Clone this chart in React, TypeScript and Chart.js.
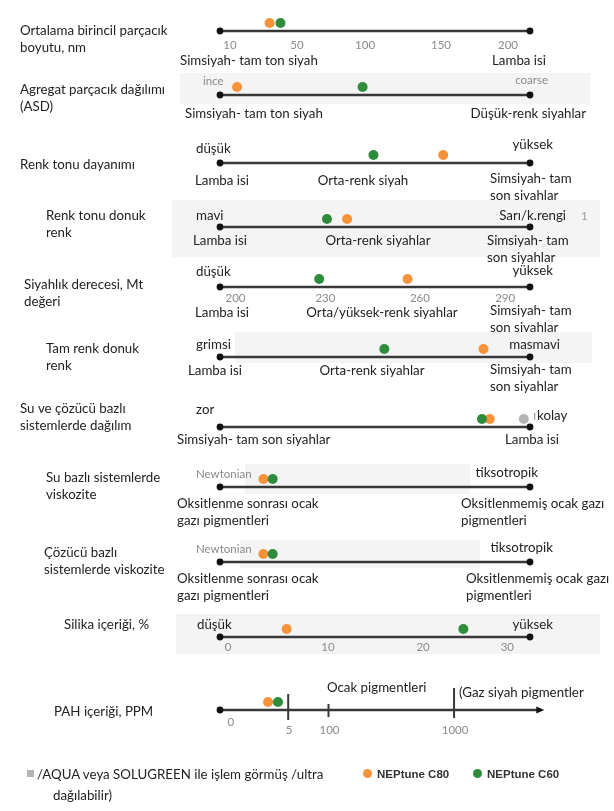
import React, { useEffect, useRef } from 'react';
import { Chart, registerables } from 'chart.js';

Chart.register(...registerables);

// ---------------- data ----------------
const rowTitles: string[][] = [
  ['Ortalama birincil parçacık', 'boyutu, nm'],
  ['Agregat parçacık dağılımı', '(ASD)'],
  ['Renk tonu dayanımı'],
  ['Renk tonu donuk', 'renk'],
  ['Siyahlık derecesi, Mt', 'değeri'],
  ['Tam renk donuk', 'renk'],
  ['Su ve çözücü bazlı', 'sistemlerde dağılım'],
  ['Su bazlı sistemlerde', 'viskozite'],
  ['Çözücü bazlı', 'sistemlerde viskozite'],
  ['Silika içeriği, %'],
  ['PAH içeriği, PPM'],
];

// position of each grade along its property scale (0 = left end, 100 = right end)
const neptuneC80 = [16, 5.5, 72, 41, 60.5, 85, 87, 14, 14, 21.5, 15.5];
const neptuneC60 = [19.5, 46, 49.5, 34.5, 32, 53, 84.5, 17, 17, 78.5, 18.7];
const treatedGrade: (number | null)[] = [null, null, null, null, null, null, 98, null, null, null, null];

const lowEndWords = ['', 'ince', 'düşük', 'mavi', 'düşük', 'grimsi', 'zor', 'Newtonian', 'Newtonian', 'düşük', ''];
const highEndWords = ['', 'coarse', 'yüksek', 'Sarı/k.rengi', 'yüksek', 'masmavi', 'kolay', 'tiksotropik', 'tiksotropik', 'yüksek', ''];

const lowEndClass: string[][] = [
  ['Simsiyah- tam ton siyah'],
  ['Simsiyah- tam ton siyah'],
  ['Lamba isi'],
  ['Lamba isi'],
  ['Lamba isi'],
  ['Lamba isi'],
  ['Simsiyah- tam son siyahlar'],
  ['Oksitlenme sonrası ocak', 'gazı pigmentleri'],
  ['Oksitlenme sonrası ocak', 'gazı pigmentleri'],
  [],
  [],
];
const midClass = ['', '', 'Orta-renk siyah', 'Orta-renk siyahlar', 'Orta/yüksek-renk siyahlar', 'Orta-renk siyahlar', '', '', '', '', ''];
const highEndClass: string[][] = [
  ['Lamba isi'],
  ['Düşük-renk siyahlar'],
  ['Simsiyah- tam', 'son siyahlar'],
  ['Simsiyah- tam', 'son siyahlar'],
  ['Simsiyah- tam', 'son siyahlar'],
  ['Simsiyah- tam', 'son siyahlar'],
  ['Lamba isi'],
  ['Oksitlenmemiş ocak gazı', 'pigmentleri'],
  ['Oksitlenmemiş ocak gazı', 'pigmentleri'],
  [],
  [],
];

const sizeTickLabels = ['10', '50', '100', '150', '200'];
const sizeTickAt = [3.2, 24.8, 46.8, 71.3, 92.9];
const mtTickLabels = ['200', '230', '260', '290'];
const mtTickAt = [5, 34, 64.5, 92];
const silicaTickLabels = ['0', '10', '20', '30'];
const silicaTickAt = [2.6, 34.8, 65.5, 92.7];
const pahTickLabels = ['0', '5', '100', '1000'];
const pahTickAt = [3.5, 22, 35, 75.5];
const pahRegionLabels = ['Ocak pigmentleri', '(Gaz siyah pigmentler'];

const legendLabels = ['/AQUA veya SOLUGREEN ile işlem görmüş /ultra', 'dağılabilir)', 'NEPtune C80', 'NEPtune C60'];

// ---------------- layout & style ----------------
const W = 614;
const H = 95;
const ABOVE = 45;
const DOT_LIFT = 8;
const LINE_LEFT = 220;
const LINE_RIGHT = 530;
const LINE_Y = [31, 95, 163, 227, 287, 357, 427, 487, 562, 637, 710];
const PAH_ROW = 10;

const TEXT = '#222';
const LINE = '#383838';
const ORANGE = '#f5923a';
const GREEN = '#2f8c3c';
const GRAY_DOT = '#b4b4b4';
const TICK_TEXT = '#8a8a8a';
const BAND = '#f4f4f4';
const FONT = '13.3px Lato';
const SMALL_FONT = '11.5px Lato';

const TITLE_X = [20, 20, 20, 46, 24, 46, 20, 46, 44, 64, 54];
const TITLE_DY = [0, -5, 2, -11, -2, -8, -18, -9, -9, -12, 2];

const LOW_WORD_X = [0, 203, 196, 196, 196, 196, 196, 196, 196, 197, 0];
const LOW_WORD_DY = [0, -14, -14, -11, -15, -12, -17, -13, -13, -12, 0];
const HIGH_WORD_X = [0, 548, 553, 566, 553, 560, 537, 538, 553, 553, 0];
const HIGH_WORD_ALIGN: CanvasTextAlign[] = ['right', 'right', 'right', 'right', 'right', 'right', 'left', 'right', 'right', 'right', 'right'];
const HIGH_WORD_DY = [0, -15, -18, -11, -16, -12, -11, -14, -14, -12, 0];
const GRAY_WORD_ROWS = [1, 7, 8];

const LOW_CLASS_X = [180, 185, 195, 193, 195, 188, 177, 177, 177, 0, 0];
const LOW_CLASS_DY = [30, 19, 18, 14, 26, 14, 13, 17, 17, 0, 0];
const MID_CLASS_X = [0, 0, 363, 378, 382, 372, 0, 0, 0, 0, 0];
const HIGH_CLASS_X = [546, 586, 490, 487, 490, 490, 505, 461, 466, 0, 0];
const HIGH_CLASS_ALIGN: CanvasTextAlign[] = ['right', 'right', 'left', 'left', 'left', 'left', 'left', 'left', 'left', 'left', 'left'];
const HIGH_CLASS_DY = [30, 19, 16, 14, 24, 13, 13, 17, 17, 0, 0];
const LINE_STEP = 17;

const BANDS: Record<number, [number, number, number, number]> = {
  1: [180, 590, -22, 9],
  3: [172, 600, -27, 30],
  5: [235, 592, -25, 6],
  7: [245, 470, -23, 7],
  8: [240, 480, -22, 6],
  9: [176, 600, -23, 17],
};

const ROW_TICKS: Record<number, { labels: string[]; at: number[]; dy: number }> = {
  0: { labels: sizeTickLabels, at: sizeTickAt, dy: 14 },
  4: { labels: mtTickLabels, at: mtTickAt, dy: 11 },
  9: { labels: silicaTickLabels, at: silicaTickAt, dy: 10 },
};
const PAH_TICK_SPAN: [number, number][] = [[0, 0], [-16, 10], [-6, 7], [-22, 8]];

function rowPlugin(i: number) {
  return {
    id: 'rowDecor' + i,
    beforeDatasetsDraw(chart: any) {
      const ctx = chart.ctx as CanvasRenderingContext2D;
      const xs = chart.scales.x;
      const ys = chart.scales.y;
      const L = ys.getPixelForValue(0);
      const X = (v: number) => xs.getPixelForValue(v);
      const text = (t: string, x: number, y: number, align: CanvasTextAlign = 'left', font = FONT, color = TEXT) => {
        ctx.font = font;
        ctx.fillStyle = color;
        ctx.textAlign = align;
        ctx.textBaseline = 'middle';
        ctx.fillText(t, x, y);
      };
      ctx.save();

      const band = BANDS[i];
      if (band) {
        ctx.fillStyle = BAND;
        ctx.fillRect(band[0], L + band[2], band[1] - band[0], band[3] - band[2]);
      }

      // title
      rowTitles[i].forEach((t, k) => text(t, TITLE_X[i], L + TITLE_DY[i] + k * LINE_STEP));

      // axis line
      const isPah = i === PAH_ROW;
      const x0 = X(0);
      const x1 = isPah ? X(103) : X(100);
      ctx.strokeStyle = LINE;
      ctx.lineWidth = 2.4;
      ctx.beginPath();
      ctx.moveTo(x0, L);
      ctx.lineTo(x1, L);
      ctx.stroke();
      ctx.fillStyle = '#111';
      const endDot = (x: number) => {
        ctx.beginPath();
        ctx.arc(x, L, 3.4, 0, Math.PI * 2);
        ctx.fill();
      };
      endDot(x0);
      if (!isPah) endDot(x1);
      else {
        ctx.beginPath();
        ctx.moveTo(x1 + 5, L);
        ctx.lineTo(x1 - 3, L - 3.5);
        ctx.lineTo(x1 - 3, L + 3.5);
        ctx.closePath();
        ctx.fill();
      }

      // numeric ticks
      const tk = ROW_TICKS[i];
      if (tk) tk.labels.forEach((t, k) => text(t, X(tk.at[k]), L + tk.dy, 'center', SMALL_FONT, TICK_TEXT));

      if (isPah) {
        ctx.strokeStyle = LINE;
        ctx.lineWidth = 2;
        pahTickLabels.forEach((t, k) => {
          const px = X(pahTickAt[k]);
          const span = PAH_TICK_SPAN[k];
          if (span[0] !== span[1]) {
            ctx.beginPath();
            ctx.moveTo(px, L + span[0]);
            ctx.lineTo(px, L + span[1]);
            ctx.stroke();
          }
          text(t, k === 0 ? px : px + 1, L + (k === 0 ? 12 : 20), 'center', SMALL_FONT, TICK_TEXT);
        });
        text(pahRegionLabels[0], X(34.5), L - 22, 'left');
        text(pahRegionLabels[1], X(75.5) + 5, L - 17, 'left');
      }

      // end words above the line
      const gray = GRAY_WORD_ROWS.includes(i);
      if (lowEndWords[i]) text(lowEndWords[i], LOW_WORD_X[i], L + LOW_WORD_DY[i], 'left', gray ? SMALL_FONT : FONT, gray ? TICK_TEXT : TEXT);
      if (highEndWords[i]) {
        const hw = highEndWords[i];
        const g2 = i === 1;
        if (i === 6) text('ı', HIGH_WORD_X[i] - 4, L + HIGH_WORD_DY[i], 'left', FONT, '#9a9a9a');
        text(hw, HIGH_WORD_X[i], L + HIGH_WORD_DY[i], HIGH_WORD_ALIGN[i], g2 ? SMALL_FONT : FONT, g2 ? TICK_TEXT : TEXT);
        if (i === 3) text('1', 581, L + HIGH_WORD_DY[i], 'left', SMALL_FONT, '#9a9a9a');
      }

      // carbon black classes under the line
      lowEndClass[i].forEach((t, k) => text(t, LOW_CLASS_X[i], L + LOW_CLASS_DY[i] + k * LINE_STEP));
      if (midClass[i]) text(midClass[i], MID_CLASS_X[i], L + LOW_CLASS_DY[i], 'center');
      highEndClass[i].forEach((t, k) => text(t, HIGH_CLASS_X[i], L + HIGH_CLASS_DY[i] + k * LINE_STEP, HIGH_CLASS_ALIGN[i]));

      ctx.restore();
    },
  };
}

function RowChart({ i }: { i: number }) {
  const ref = useRef<HTMLCanvasElement>(null);
  useEffect(() => {
    const canvas = ref.current;
    if (!canvas) return;
    const point = (v: number) => [{ x: v, y: 1 }];
    const dotStyle = { pointRadius: 5, pointBorderWidth: 0, pointHoverRadius: 5, clip: false as const };
    const datasets: any[] = [
      { label: legendLabels[3], data: point(neptuneC60[i]), backgroundColor: GREEN, ...dotStyle },
      { label: legendLabels[2], data: point(neptuneC80[i]), backgroundColor: ORANGE, ...dotStyle },
    ];
    const tg = treatedGrade[i];
    if (tg !== null) datasets.push({ label: 'AQUA/SOLUGREEN', data: point(tg), backgroundColor: GRAY_DOT, ...dotStyle });

    const chart = new Chart(canvas, {
      type: 'scatter',
      data: { datasets },
      options: {
        animation: false,
        responsive: false,
        events: [],
        layout: {
          padding: { left: LINE_LEFT, right: W - LINE_RIGHT, top: ABOVE - DOT_LIFT, bottom: H - ABOVE },
        },
        scales: {
          x: { type: 'linear', min: 0, max: 100, display: false },
          y: { type: 'linear', min: 0, max: 1, display: false },
        },
        plugins: { legend: { display: false }, tooltip: { enabled: false } },
      },
      plugins: [rowPlugin(i)],
    });
    return () => chart.destroy();
  }, [i]);
  return (
    <canvas
      ref={ref}
      width={W}
      height={H}
      style={{ position: 'absolute', left: 0, top: LINE_Y[i] - ABOVE, width: W, height: H }}
    />
  );
}

export default function App() {
  const abs = (left: number, top: number): React.CSSProperties => ({ position: 'absolute', left, top });
  const legendText: React.CSSProperties = { font: FONT, color: TEXT, whiteSpace: 'nowrap', lineHeight: '16px' };
  const boldText: React.CSSProperties = { font: 'bold 11.5px "Liberation Sans"', color: '#333', whiteSpace: 'nowrap', lineHeight: '16px' };
  const circle = (c: string): React.CSSProperties => ({ width: 9, height: 9, borderRadius: '50%', background: c });
  return (
    <div style={{ position: 'absolute', left: 0, top: 0, width: W, height: 811, overflow: 'hidden', background: '#fff' }}>
      {rowTitles.map((_, i) => (
        <RowChart key={i} i={i} />
      ))}
      <div style={{ ...abs(27, 770), width: 7, height: 7, background: GRAY_DOT }} />
      <div style={{ ...abs(37, 766), ...legendText }}>{legendLabels[0]}</div>
      <div style={{ ...abs(53, 787), ...legendText }}>{legendLabels[1]}</div>
      <div style={{ ...abs(363, 769), ...circle(ORANGE) }} />
      <div style={{ ...abs(377, 766), ...boldText }}>{legendLabels[2]}</div>
      <div style={{ ...abs(473, 769), ...circle(GREEN) }} />
      <div style={{ ...abs(487, 766), ...boldText }}>{legendLabels[3]}</div>
    </div>
  );
}
